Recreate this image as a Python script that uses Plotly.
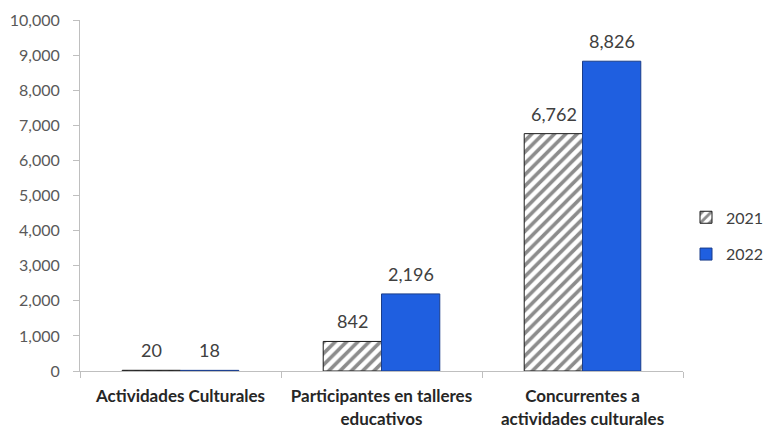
import plotly.graph_objects as go

categories = ["Actividades Culturales", "Participantes en talleres<br>educativos",
              "Concurrentes a<br>actividades culturales"]
values_2021 = [20, 842, 6762]
values_2022 = [18, 2196, 8826]
y_ticks = [0, 1000, 2000, 3000, 4000, 5000, 6000, 7000, 8000, 9000, 10000]

font_family = "Lato, 'Open Sans', sans-serif"
label_font = dict(family=font_family, size=18, color="#404040")

fig = go.Figure()
fig.add_trace(go.Bar(
    name="2021", x=categories, y=values_2021,
    marker=dict(color="white", line=dict(color="#1a1a1a", width=1),
                pattern=dict(shape="/", fgcolor="#1a1a1a", bgcolor="white",
                             size=8, solidity=0.45)),
    legendgroup="a",
))
fig.add_trace(go.Bar(
    name="2022", x=categories, y=values_2022,
    marker=dict(color="#1f5fe0", line=dict(color="#1a3d8a", width=1)),
    legendgroup="b",
))

# value labels above each bar, offset left/right by half a bar width
half_bar = 29
for vals, shift in ((values_2021, -half_bar), (values_2022, half_bar)):
    for cat, v in zip(categories, vals):
        fig.add_annotation(x=cat, y=v, text=f"{v:,}", showarrow=False,
                           xshift=shift, yshift=7, yanchor="bottom",
                           font=label_font)

fig.update_layout(
    width=764, height=430,
    margin=dict(l=80, r=81, t=20, b=59, autoexpand=False),
    paper_bgcolor="white", plot_bgcolor="white",
    barmode="group", bargap=0.42, bargroupgap=0,
    font=dict(family=font_family, size=16, color="#595959"),
    legend=dict(x=1.005, xanchor="left", y=0.385, yanchor="middle",
                font=dict(size=16, color="#404040"),
                tracegroupgap=13, itemwidth=30),
    showlegend=True,
)
fig.update_xaxes(
    showline=True, linecolor="#bfbfbf", linewidth=1,
    ticks="outside", tickson="boundaries", ticklen=6, tickcolor="#bfbfbf",
    tickfont=dict(family=font_family, size=17, color="#262626", weight="bold"),
    tickangle=0, ticklabelstandoff=10, showgrid=False,
)
fig.update_yaxes(
    range=[0, 10000], tickvals=y_ticks, tickformat=",",
    showline=True, linecolor="#bfbfbf", linewidth=1,
    ticks="outside", ticklen=6, tickcolor="#bfbfbf",
    tickfont=dict(family=font_family, size=16, color="#595959"),
    ticklabelstandoff=10, showgrid=False, zeroline=False,
)

fig.write_html("out.html")
